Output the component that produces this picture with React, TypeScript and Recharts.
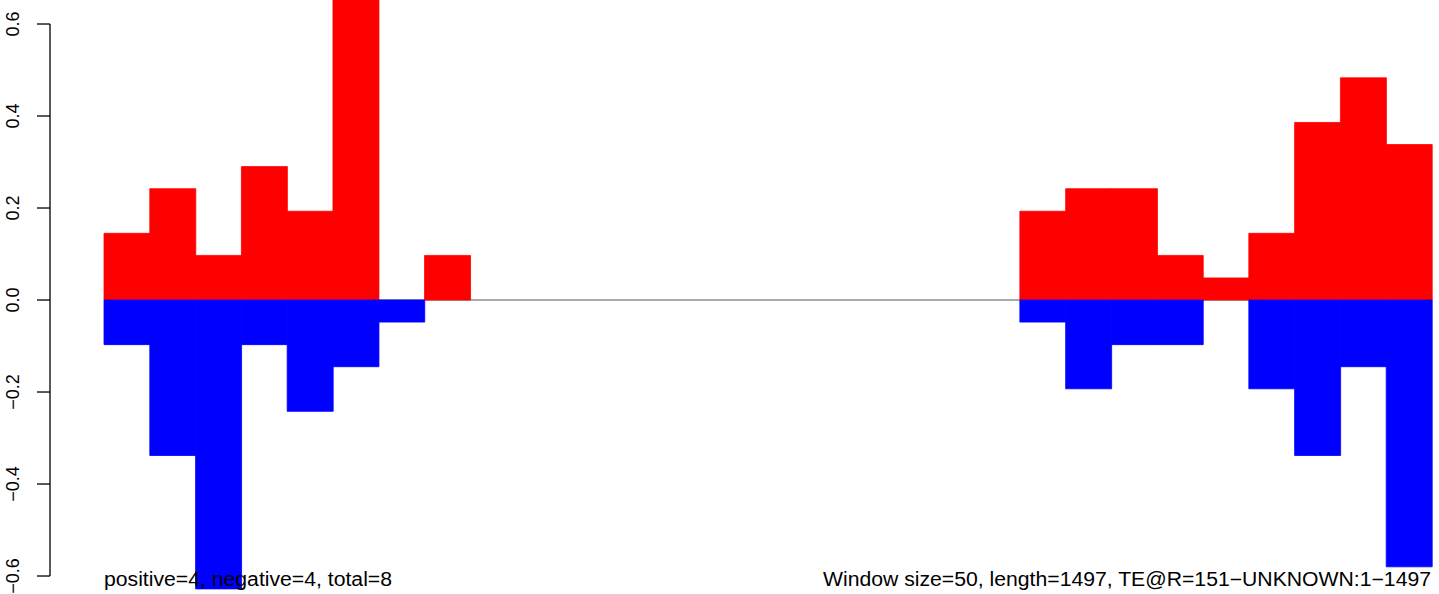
import { BarChart, Bar, XAxis, YAxis, ReferenceLine } from "recharts";

// 50-bp windows along the 1497-bp element
const windows = [
  "1", "51", "101", "151", "201", "251", "301", "351", "401", "451",
  "501", "551", "601", "651", "701", "751", "801", "851", "901", "951",
  "1001", "1051", "1101", "1151", "1201", "1251", "1301", "1351", "1401",
];

const positive = [
  0.145, 0.242, 0.097, 0.29, 0.193, 0.676, 0, 0.097, 0, 0,
  0, 0, 0, 0, 0, 0, 0, 0, 0, 0,
  0.193, 0.242, 0.242, 0.097, 0.048, 0.145, 0.386, 0.483, 0.338,
];

const negative = [
  -0.097, -0.338, -0.628, -0.097, -0.242, -0.145, -0.048, 0, 0, 0,
  0, 0, 0, 0, 0, 0, 0, 0, 0, 0,
  -0.048, -0.193, -0.097, -0.097, 0, -0.193, -0.338, -0.145, -0.58,
];

const yTicks = [-0.6, -0.4, -0.2, 0, 0.2, 0.4, 0.6];

const leftNote = "positive=4, negative=4, total=8";
const rightNote = "Window size=50, length=1497, TE@R=151\u2212UNKNOWN:1\u22121497";

const W = 1439;
const H = 594;
const Y_MIN = -0.6391;
const Y_MAX = 0.6522;
const AXIS_X = 50;
const FONT = "'Liberation Sans', Arial, Helvetica, sans-serif";

const data = windows.map((w, i) => ({ w, pos: positive[i], neg: negative[i] }));

function fmt(v: number) {
  return v.toFixed(1).replace("-", "\u2212");
}

function AxisTick(props: any) {
  const { y, payload, index } = props;
  const step = ((yTicks[1] - yTicks[0]) * H) / (Y_MAX - Y_MIN);
  return (
    <g>
      <line x1={AXIS_X - 13} x2={AXIS_X} y1={y} y2={y} stroke="#000" strokeWidth={1.3} />
      {index < yTicks.length - 1 && (
        <line x1={AXIS_X} x2={AXIS_X} y1={y} y2={y - step} stroke="#000" strokeWidth={1.3} />
      )}
      <text
        x={19}
        y={y}
        transform={`rotate(-90 19 ${y})`}
        textAnchor="middle"
        fontSize={18}
        fontFamily={FONT}
        fill="#000"
      >
        {fmt(payload.value)}
      </text>
    </g>
  );
}

// both layers share the same layout so the zero line sits under the bars
function Layer({ bars }: { bars: boolean }) {
  return (
    <BarChart
      width={W}
      height={H}
      data={data}
      margin={{ top: 0, right: 7, bottom: 0, left: 0 }}
      barCategoryGap={0}
      barGap={0}
      stackOffset="sign"
      style={{ position: "absolute", left: 0, top: 0 }}
    >
      <XAxis dataKey="w" hide />
      <YAxis
        type="number"
        domain={[Y_MIN, Y_MAX]}
        allowDataOverflow
        ticks={yTicks}
        interval={0}
        width={104}
        axisLine={false}
        tickLine={false}
        tick={bars ? (p: any) => <AxisTick {...p} /> : false}
      />
      {!bars && <ReferenceLine y={0} stroke="#a9a9a9" strokeWidth={2} />}
      {bars && (
        <Bar dataKey="pos" stackId="w" fill="#ff0000" stroke="#ff0000" strokeWidth={0.8} isAnimationActive={false} />
      )}
      {bars && (
        <Bar dataKey="neg" stackId="w" fill="#0000ff" stroke="#0000ff" strokeWidth={0.8} isAnimationActive={false} />
      )}
    </BarChart>
  );
}

export default function App() {
  return (
    <div style={{ position: "absolute", left: 0, top: 0, width: W, height: H, background: "#fff" }}>
      <Layer bars={false} />
      <Layer bars={true} />
      <svg
        width={W}
        height={H}
        style={{ position: "absolute", left: 0, top: 0, pointerEvents: "none" }}
      >
        <text x={104} y={586} fontSize={19.5} fontFamily={FONT} fill="#000" textLength={288} lengthAdjust="spacingAndGlyphs">
          {leftNote}
        </text>
        <text x={1431} y={586} textAnchor="end" fontSize={19.5} fontFamily={FONT} fill="#000" textLength={608} lengthAdjust="spacingAndGlyphs">
          {rightNote}
        </text>
      </svg>
    </div>
  );
}
